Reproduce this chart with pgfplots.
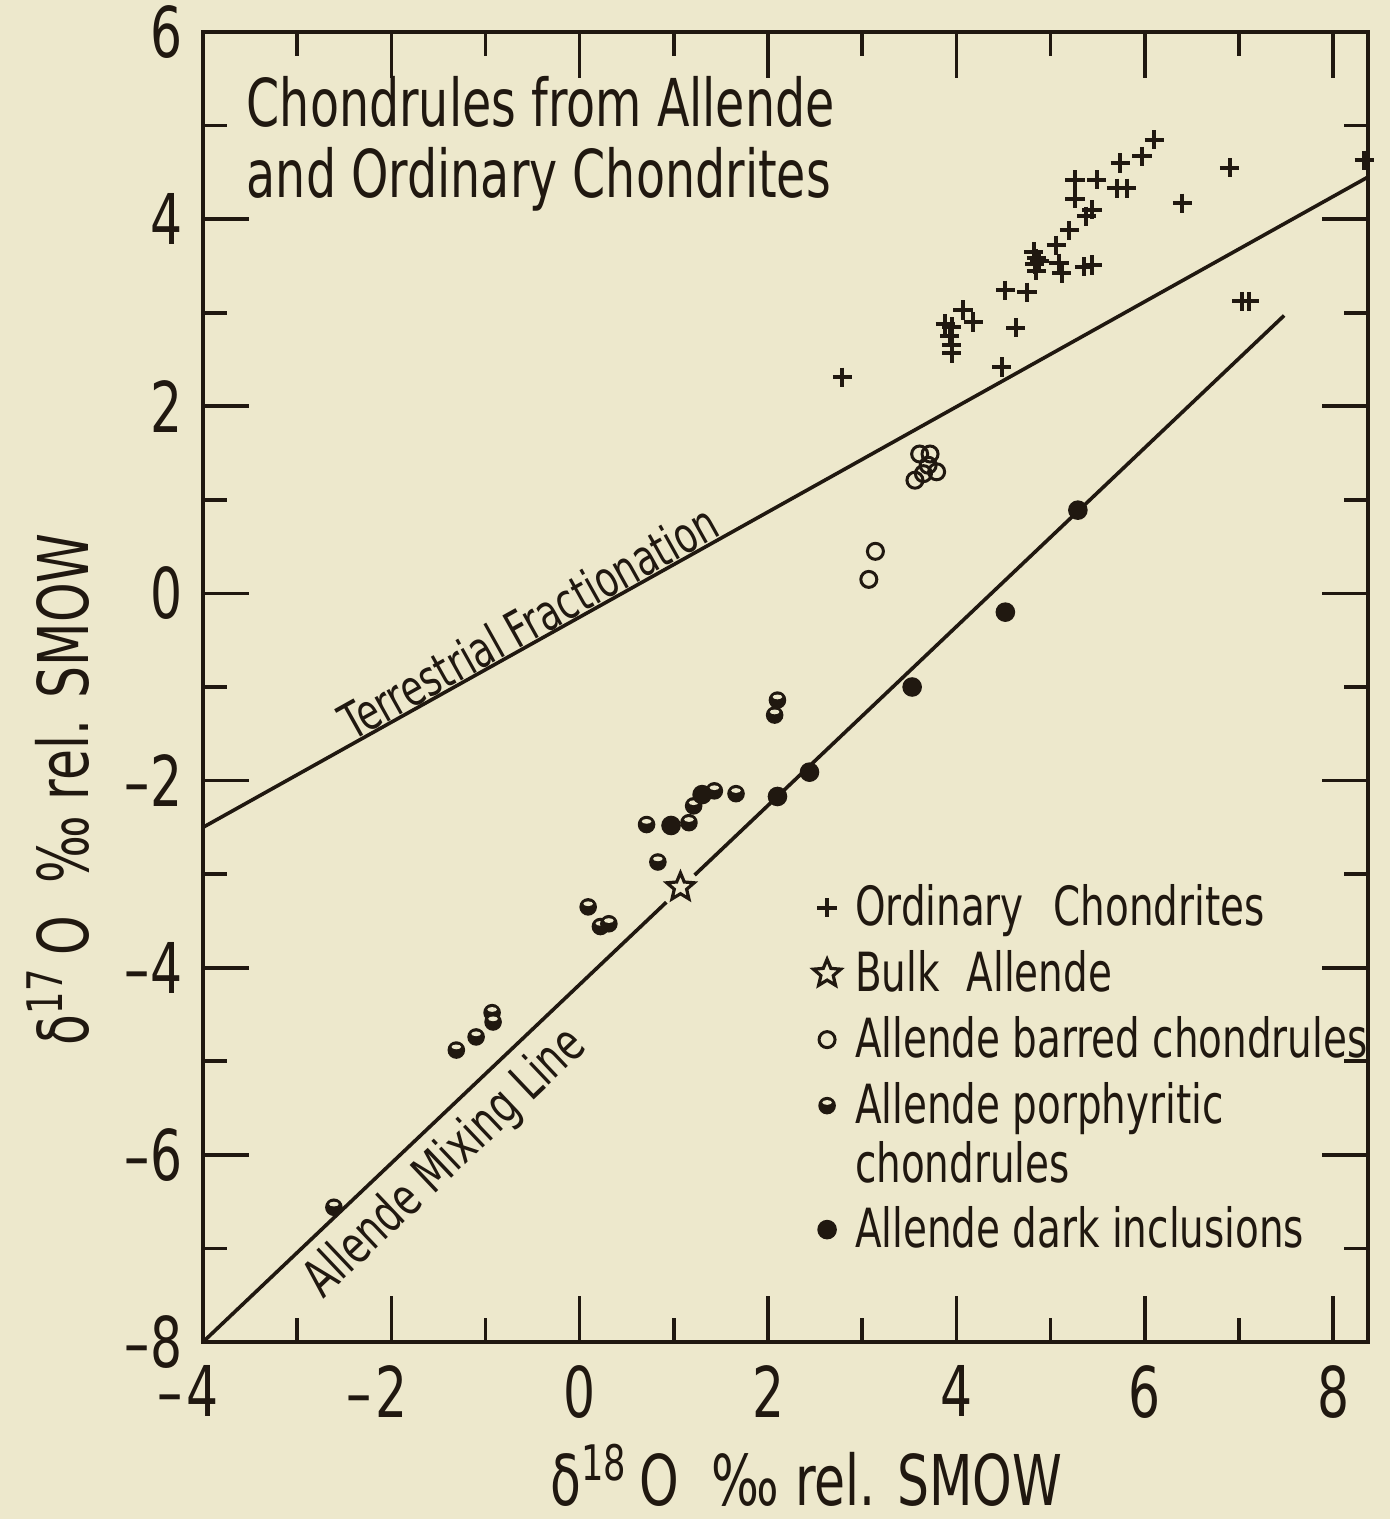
\documentclass[border=0pt]{standalone}
\usepackage{pgfplots}
\pgfplotsset{compat=1.18}
\usepackage{fontspec}
\setmainfont{DejaVu Sans}[FakeStretch=0.72]
\usetikzlibrary{calc,backgrounds}
\definecolor{bg}{RGB}{237,232,204}
\definecolor{ink}{RGB}{32,24,16}
\newcommand{\tickfont}{\fontsize{17.5}{20}\selectfont}
\newcommand{\labfont}{\fontsize{17.5}{20}\selectfont}
\newcommand{\titlefont}{\fontsize{16.5}{18}\selectfont}
\newcommand{\legfont}{\fontsize{13.5}{14.5}\selectfont}
\newcommand{\lstrut}{\rule[-5.5pt]{0pt}{16.5pt}}

\pgfdeclareplotmark{ostar}{%
  \pgfpathmoveto{\pgfpointpolar{90}{\pgfplotmarksize}}%
  \pgfpathlineto{\pgfpointpolar{126}{0.45\pgfplotmarksize}}%
  \pgfpathlineto{\pgfpointpolar{162}{\pgfplotmarksize}}%
  \pgfpathlineto{\pgfpointpolar{198}{0.45\pgfplotmarksize}}%
  \pgfpathlineto{\pgfpointpolar{234}{\pgfplotmarksize}}%
  \pgfpathlineto{\pgfpointpolar{270}{0.45\pgfplotmarksize}}%
  \pgfpathlineto{\pgfpointpolar{306}{\pgfplotmarksize}}%
  \pgfpathlineto{\pgfpointpolar{342}{0.45\pgfplotmarksize}}%
  \pgfpathlineto{\pgfpointpolar{18}{\pgfplotmarksize}}%
  \pgfpathlineto{\pgfpointpolar{54}{0.45\pgfplotmarksize}}%
  \pgfpathclose
  \pgfusepathqfillstroke}
\pgfdeclareplotmark{porph}{%
  \pgfsetfillcolor{ink}%
  \pgfpathcircle{\pgfpointorigin}{\pgfplotmarksize}\pgfusepathqfill
  \pgfsetfillcolor{bg}%
  \pgfpathellipse{\pgfpoint{0pt}{0.36\pgfplotmarksize}}{\pgfpoint{0.55\pgfplotmarksize}{0pt}}{\pgfpoint{0pt}{0.27\pgfplotmarksize}}\pgfusepathqfill}

\pgfplotsset{
  mylegend/.style={legend image code/.code={\draw[##1] plot coordinates {(0pt,4.5pt)}; \path[draw=none,fill=none] (-4pt,-5.5pt) rectangle (7pt,11pt);}},
  mylegendtall/.style={legend image code/.code={\draw[##1] plot coordinates {(0pt,4.5pt)}; \path[draw=none,fill=none] (-4pt,-20pt) rectangle (7pt,11pt);}},
}

\pgfplotstableread{
x y
2.79 2.31
3.88 2.88
3.95 2.85
3.93 2.75
3.95 2.65
3.95 2.57
4.07 3.03
4.18 2.90
4.52 3.24
4.75 3.22
4.63 2.84
4.48 2.42
4.82 3.65
4.85 3.58
4.83 3.52
4.85 3.45
4.88 3.55
5.06 3.72
5.09 3.53
5.12 3.42
5.20 3.88
5.38 4.03
5.44 4.10
5.26 4.42
5.26 4.22
5.49 4.42
5.36 3.49
5.44 3.51
5.74 4.60
5.70 4.33
5.81 4.33
5.97 4.67
6.10 4.85
6.40 4.17
6.90 4.55
8.33 4.63
7.03 3.12
7.11 3.12
}\ordinary

\pgfplotstableread{
x y
3.61 1.49
3.72 1.49
3.70 1.37
3.79 1.30
3.65 1.28
3.56 1.21
3.14 0.45
3.07 0.15
}\barred

\pgfplotstableread{
x y
2.10 -1.14
2.07 -1.30
1.43 -2.11
1.66 -2.14
1.21 -2.27
1.16 -2.45
0.71 -2.47
0.83 -2.87
0.09 -3.35
0.22 -3.56
0.31 -3.53
-1.31 -4.88
-1.10 -4.74
-0.93 -4.48
-0.92 -4.58
-2.61 -6.56
}\porphyritic

\pgfplotstableread{
x y
5.29 0.89
4.52 -0.20
3.53 -1.00
2.44 -1.91
2.10 -2.17
0.97 -2.48
1.30 -2.15
}\dark

\pgfplotstableread{
x y
1.07 -3.14
}\bulk

\begin{document}
\begin{tikzpicture}
\begin{axis}[
  scale only axis, width=291.25pt, height=327.5pt,
  xmin=-4, xmax=8.37, ymin=-8, ymax=6,
  clip=false,
  xtick={-4,-2,...,8}, ytick={-8,-6,...,6},
  minor xtick={-3,-1,...,7}, minor ytick={-7,-5,...,5},
  xticklabels={\llap{\textendash\kern1pt}4,\llap{\textendash\kern1pt}2,0,2,4,6,8},
  yticklabels={\textendash8,\textendash6,\textendash4,\textendash2,0,2,4,6},
  /pgf/number format/assume math mode=true,
  major tick length=11.5pt, minor tick length=6pt,
  tick style={ink, line width=0.9pt},
  axis line style={ink, line width=1.1pt},
  xticklabel style={anchor=north, inner sep=0pt, yshift=-5.75pt, font=\tickfont, text=ink},
  yticklabel style={anchor=east, inner sep=0pt, xshift=-5pt, font=\tickfont, text=ink},
  xlabel={δ\textsuperscript{18}\,O\ \ ‰ rel. SMOW},
  ylabel={δ\textsuperscript{17}\,O\ \ ‰ rel. SMOW},
  xlabel style={at={(axis description cs:0.518,-0.125)}, anchor=base, font=\labfont, inner sep=0pt, text=ink},
  ylabel style={at={(axis description cs:-0.0987,0.422)}, anchor=base, font=\labfont, inner sep=0pt, text=ink},
  legend style={draw=none, fill=none, at={(axis cs:2.457,-3.080)}, anchor=north west,
    inner sep=0pt, outer sep=0pt, row sep=0pt, column sep=0pt, font=\legfont, text=ink,
    cells={anchor=base west}, nodes={inner sep=0pt},
    /tikz/every even column/.style={column sep=0pt},
    /tikz/every odd column/.style={column sep=0pt}},
]
\addplot[ink, line width=0.9pt, no marks, forget plot] coordinates {(-4,-2.5) (8.37,4.45)};
\addplot[ink, line width=0.9pt, no marks, forget plot] coordinates {(-4,-8) (0.92,-3.30)};
\addplot[ink, line width=0.9pt, no marks, forget plot] coordinates {(1.22,-3.01) (7.48,2.97)};

\addplot[only marks, mylegend, ink, mark=+, mark size=2.4pt, mark options={line width=1pt}] table {\ordinary};
\addlegendentry{\lstrut Ordinary\hspace{0.55em}Chondrites}
\addplot[only marks, mylegend, ink, mark=ostar, mark size=3.6pt, mark options={fill=bg, line width=0.8pt}] table {\bulk};
\addlegendentry{\lstrut Bulk\hspace{0.5em}Allende}
\addplot[only marks, mylegend, ink, mark=o, mark size=2pt, mark options={line width=0.75pt}] table {\barred};
\addlegendentry{\lstrut Allende barred chondrules}
\addplot[only marks, mylegendtall, ink, mark=porph, mark size=2.2pt] table {\porphyritic};
\addlegendentry{\begin{tabular}[t]{@{}l@{}}\rule{0pt}{11pt}Allende porphyritic\\chondrules\rule[-5.5pt]{0pt}{5.5pt}\end{tabular}}
\addplot[only marks, mylegend, ink, mark=*, mark size=2.25pt] table {\dark};
\addlegendentry{\lstrut Allende dark inclusions}

\node[anchor=base west, font=\titlefont, inner sep=0pt, text=ink] at (rel axis cs:0.0369,0.9275) {Chondrules from Allende};
\node[anchor=base west, font=\titlefont, inner sep=0pt, text=ink] at (rel axis cs:0.0369,0.8733) {and Ordinary Chondrites};
\node[rotate=29.2, anchor=south, inner sep=0.5pt, font=\fontsize{12.5}{14}\selectfont, text=ink] at (axis cs:-0.43,-0.51) {Terrestrial Fractionation};
\node[rotate=43.5, anchor=north, inner sep=3pt, font=\fontsize{13}{14}\selectfont, text=ink] at (axis cs:-1.70,-5.80) {Allende Mixing Line};

\coordinate (SW) at (rel axis cs:0,0);
\coordinate (NE) at (rel axis cs:1,1);
\end{axis}
\pgfresetboundingbox
\path[use as bounding box] ($(SW)+(-50.75pt,-44.25pt)$) rectangle ($(NE)+(5.5pt,8pt)$);
\begin{scope}[on background layer]
\fill[bg] ($(SW)+(-50.75pt,-44.25pt)$) rectangle ($(NE)+(5.5pt,8pt)$);
\end{scope}
\end{tikzpicture}
\end{document}
